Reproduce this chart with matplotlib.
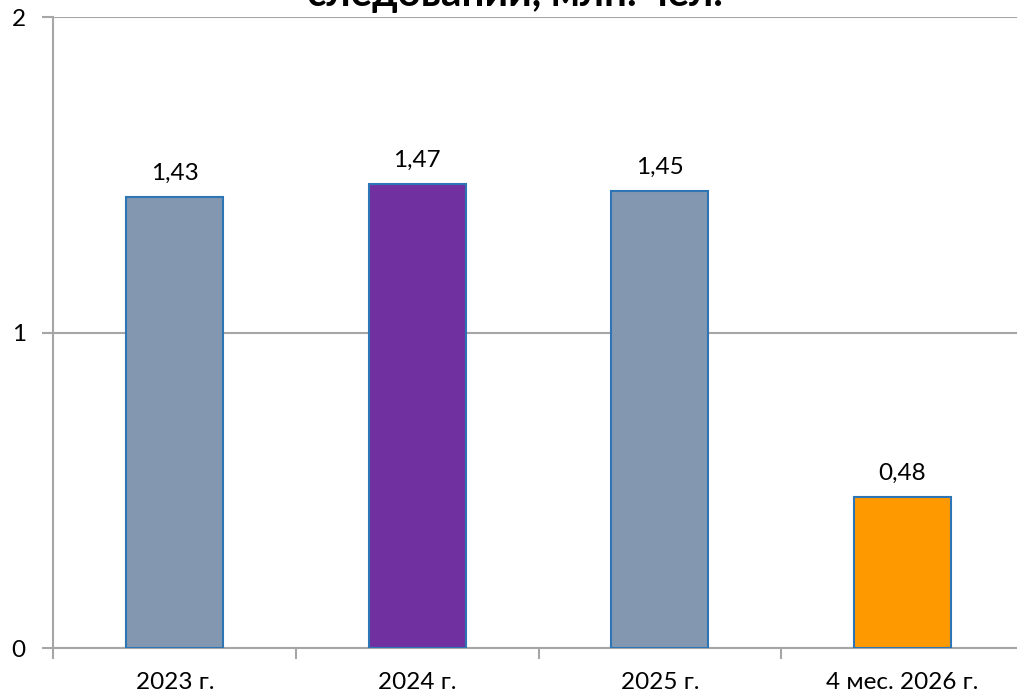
import matplotlib
matplotlib.use('Agg')
import matplotlib.pyplot as plt
from matplotlib.ticker import FixedLocator

# data
categories = ['2023 г.', '2024 г.', '2025 г.', '4 мес. 2026 г.']
values = [1.43, 1.47, 1.45, 0.48]
value_labels = ['1,43', '1,47', '1,45', '0,48']
bar_colors = ['#8497B0', '#7030A0', '#8497B0', '#FF9900']
title_text = 'следований, млн. чел.'

plt.rcParams['font.family'] = ['Lato', 'DejaVu Sans']

fig = plt.figure(figsize=(10.17, 6.97), dpi=100)
# axes runs past the right edge, as in the reference
ax = fig.add_axes([0.0526, 0.0703, 0.954, 0.9053])

x = list(range(len(categories)))
ax.bar(x, values, width=0.40, color=bar_colors, edgecolor='#2E75B6',
       linewidth=1.5, zorder=3)

for xi, v, lab in zip(x, values, value_labels):
    ax.text(xi, v + 0.075, lab, ha='center', va='center', fontsize=17.5,
            color='#000000', zorder=4)

ax.set_xlim(-0.5, 3.5)
ax.set_ylim(0, 2)
ax.set_yticks([0, 1, 2])
ax.set_yticklabels(['0', '1', '2'], fontsize=17.5)
ax.set_xticks(x)
ax.set_xticklabels(categories, fontsize=17.5)
ax.tick_params(axis='x', which='major', length=0, pad=17)
ax.xaxis.set_minor_locator(FixedLocator([-0.5, 0.5, 1.5, 2.5, 3.5]))
ax.tick_params(axis='x', which='minor', length=8, width=1.5, color='#A6A6A6')
ax.tick_params(axis='y', length=8, width=1.5, color='#A6A6A6', pad=12)

ax.grid(axis='y', color='#A6A6A6', linewidth=1.5, zorder=0)
ax.set_axisbelow(True)
for s in ['top', 'right']:
    ax.spines[s].set_visible(False)
for s in ['left', 'bottom']:
    ax.spines[s].set_color('#A6A6A6')
    ax.spines[s].set_linewidth(1.5)

# title is cut off by the top edge in the reference
fig.text(0.506, 1 - 6 / 697, title_text, ha='center', va='baseline',
         fontsize=29, fontweight='bold', color='#000000')

fig.savefig('out.png', dpi=100, facecolor='white')
